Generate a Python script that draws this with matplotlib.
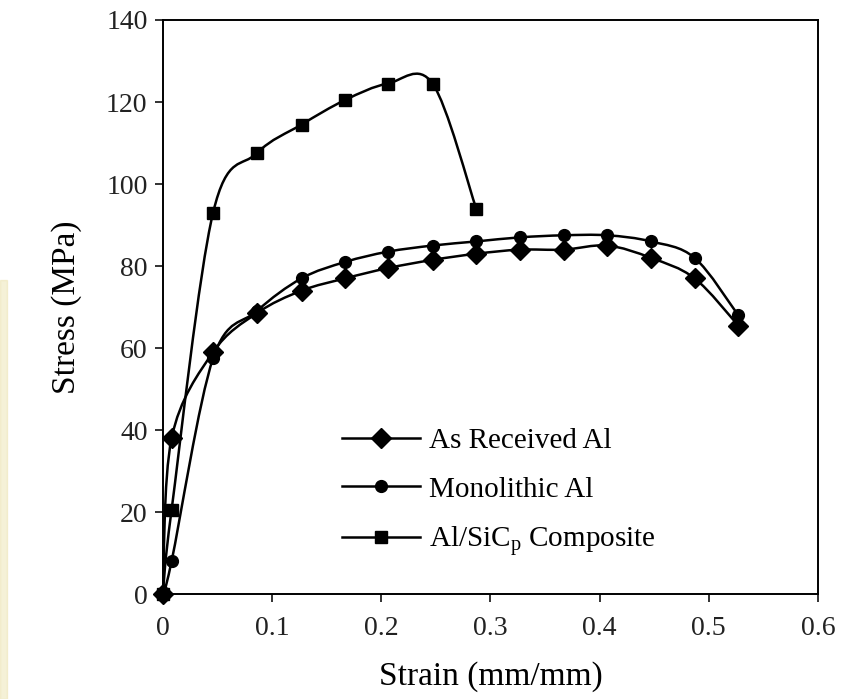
import numpy as np
import matplotlib
matplotlib.use('agg')
import matplotlib.pyplot as plt
from matplotlib.path import Path
from matplotlib.patches import PathPatch, Rectangle
from matplotlib.lines import Line2D

# data
strain_al = [0, 0.008, 0.046, 0.086, 0.127, 0.167, 0.206, 0.247, 0.287,
             0.327, 0.367, 0.407, 0.447, 0.487, 0.527]
stress_received = [0, 38, 59, 68.5, 74, 77, 79.5, 81.5, 83, 84, 84, 85, 82, 77, 65.5]
stress_mono = [0, 8, 57.5, 69, 77, 81, 83.5, 85, 86, 87, 87.5, 87.5, 86, 82, 68]
strain_comp = [0, 0.008, 0.046, 0.086, 0.127, 0.167, 0.206, 0.247, 0.287]
stress_comp = [0, 20.5, 93, 107.5, 114.5, 120.5, 124.5, 124.5, 94]

labels = ['As Received Al', 'Monolithic Al', r'Al/SiC$_\mathregular{p}$ Composite']
markers = ['D', 'o', 's']
msizes = [10.5, 8.5, 8.5]
xticks = [0, 0.1, 0.2, 0.3, 0.4, 0.5, 0.6]
xticklabels = ['0', '0.1', '0.2', '0.3', '0.4', '0.5', '0.6']
yticks = [0, 20, 40, 60, 80, 100, 120, 140]

plt.rcParams['font.family'] = ['Liberation Serif', 'DejaVu Serif']
plt.rcParams['mathtext.fontset'] = 'custom'
plt.rcParams['mathtext.rm'] = 'Liberation Serif'


def smooth_path(x, y):
    # excel-like smoothed line: catmull-rom segments as cubic beziers
    p = np.column_stack([x, y]).astype(float)
    pts = np.vstack([p[0], p, p[-1]])
    verts = [p[0]]
    codes = [Path.MOVETO]
    for i in range(1, len(pts) - 2):
        c1 = pts[i] + (pts[i + 1] - pts[i - 1]) / 6
        c2 = pts[i + 1] - (pts[i + 2] - pts[i]) / 6
        verts += [c1, c2, pts[i + 1]]
        codes += [Path.CURVE4] * 3
    return Path(verts, codes)


fig = plt.figure(figsize=(8.57, 6.99), dpi=100)
ax = fig.add_axes([0.190, 0.150, 0.7645, 0.8214])

# faint watermark strip at the left edge
fig.patches.append(Rectangle((0, 0), 0.008, 0.6, transform=fig.transFigure,
                             color='#e9e0a8', alpha=0.45, zorder=0))

series = [(strain_al, stress_received), (strain_al, stress_mono), (strain_comp, stress_comp)]
handles = []
for (xs, ys), m, ms, lab in zip(series, markers, msizes, labels):
    ax.add_patch(PathPatch(smooth_path(xs, ys), facecolor='none', edgecolor='black',
                           lw=1.8, transform=ax.transData, zorder=2, clip_on=False))
    ax.plot(xs, ys, linestyle='none', marker=m, markersize=ms, color='black',
            zorder=3, clip_on=False)
    handles.append(Line2D([], [], color='black', lw=1.8, marker=m, markersize=ms))

ax.set_xlim(0, 0.6)
ax.set_ylim(0, 140)
ax.set_xticks(xticks)
ax.set_xticklabels(xticklabels)
ax.set_yticks(yticks)
ax.tick_params(direction='out', length=6, width=1.3, labelsize=20, colors='#222222')
ax.tick_params(axis='x', pad=10)
ax.tick_params(axis='y', pad=5)
for s in ax.spines.values():
    s.set_linewidth(1.4)

ax.set_xlabel('Strain (mm/mm)', fontsize=24, labelpad=14)
ax.set_ylabel('Stress (MPa)', fontsize=24, labelpad=17)

ax.legend(handles, labels, loc='upper left', bbox_to_anchor=(0.255, 0.31),
          frameon=False, fontsize=21, handlelength=2.7, handletextpad=0.3,
          labelspacing=0.75, borderaxespad=0)

fig.savefig('out.png', dpi=100, facecolor='white')
